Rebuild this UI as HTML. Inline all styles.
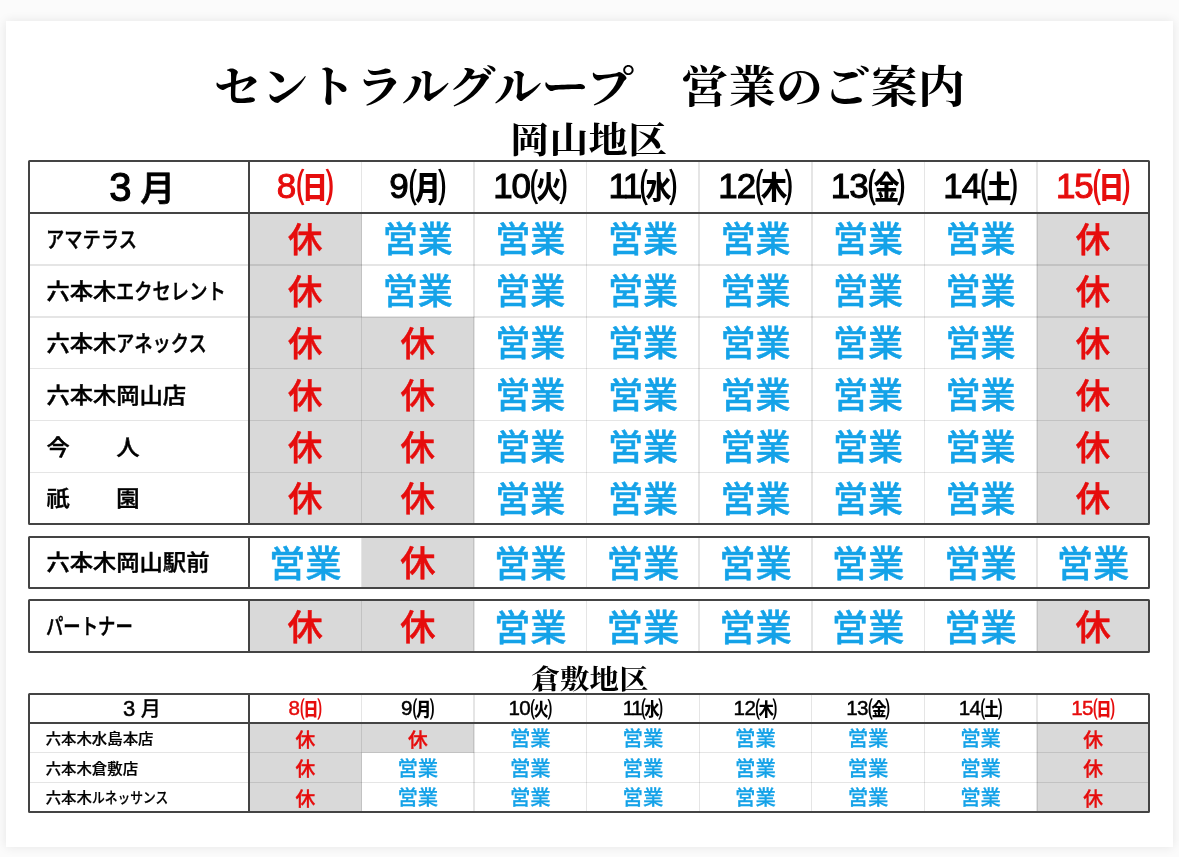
<!DOCTYPE html>
<html lang="ja"><head><meta charset="utf-8"><title>セントラルグループ 営業のご案内</title>
<style>
html,body{margin:0;padding:0}
body{width:1179px;height:857px;overflow:hidden;background:#fbfbfb;position:relative;font-family:"Liberation Sans","Noto Sans CJK JP",sans-serif;color:#000}
.paper{position:absolute;left:6.2px;top:21.2px;width:1167px;height:825.8px;background:#fff;box-shadow:0 0 10px rgba(0,0,0,.09)}
.title{position:absolute;left:0;width:1179px;text-align:center;font-family:"Liberation Serif","Noto Serif CJK JP","Noto Serif CJK SC",serif;font-weight:700;white-space:pre}
.t1{top:53.2px;font-size:47.35px;line-height:70px;transform:scaleY(.94)}
.t2{top:116.4px;left:-1px;font-size:39.25px;line-height:50px;transform:scaleY(.935)}
.t3{top:660px;font-size:29.4px;line-height:40px;transform:scaleY(.945)}
.c{position:absolute;box-sizing:border-box;display:flex;align-items:center;justify-content:center;white-space:nowrap}
.g{background:#d9d9d9}
.r{color:#e60d0d}
.b{color:#14a2e8}
.k{font-weight:500;-webkit-text-stroke:.5px currentColor}
.e{font-weight:500;-webkit-text-stroke:.5px currentColor}
.l{position:absolute;background:rgba(0,0,0,.1)}
.d{position:absolute;background:#444}
.lab{justify-content:flex-start;font-weight:500;-webkit-text-stroke:.5px currentColor}
.sq{display:inline-block;transform-origin:0 50%}
.n{font-family:"Liberation Sans","Noto Sans CJK JP",sans-serif;-webkit-text-stroke:1px currentColor}
.w{font-weight:700}
.m3{font-family:"Liberation Sans","Noto Sans CJK JP",sans-serif;font-weight:400;-webkit-text-stroke:.9px currentColor}
.mm{font-weight:500;-webkit-text-stroke:.5px currentColor;white-space:pre}
.ls{display:inline-block;transform:scaleY(.93);transform-origin:0 50%}
</style></head>
<body>
<div class="paper"></div>
<div class="title t1">セントラルグループ　営業のご案内</div>
<div class="title t2">岡山地区</div>
<div class="title t3">倉敷地区</div>
<div class="c" style="left:28.7px;top:160.9px;width:220.3px;height:52px;font-size:35px;padding-bottom:3px;padding-left:7px"><span class="mm" style="-webkit-text-stroke-width:0.7px"><span class="m3" style="-webkit-text-stroke-width:1.2px;font-size:40px;margin-right:-1px;position:relative;top:0px">3</span> 月</span></div>
<div class="c r" style="left:249px;top:160.9px;width:112.55px;height:52px;padding-bottom:2px"><span class="n" style="-webkit-text-stroke-width:1px;font-size:35px;letter-spacing:0px">8</span><span class="w" style="font-size:37.5px;margin-left:0px;position:relative;top:-1px">㈰</span></div>
<div class="c" style="left:361.55px;top:160.9px;width:112.55px;height:52px;padding-bottom:2px"><span class="n" style="-webkit-text-stroke-width:1px;font-size:35px;letter-spacing:0px">9</span><span class="w" style="font-size:37.5px;margin-left:0px;position:relative;top:-1px">㈪</span></div>
<div class="c" style="left:474.1px;top:160.9px;width:112.55px;height:52px;padding-bottom:2px"><span class="n" style="-webkit-text-stroke-width:1px;font-size:35px;letter-spacing:-1px">10</span><span class="w" style="font-size:37.5px;margin-left:0px;position:relative;top:-1px">㈫</span></div>
<div class="c" style="left:586.65px;top:160.9px;width:112.55px;height:52px;padding-bottom:2px"><span class="n" style="-webkit-text-stroke-width:1px;font-size:35px;letter-spacing:-2.5px">11</span><span class="w" style="font-size:37.5px;margin-left:0px;position:relative;top:-1px">㈬</span></div>
<div class="c" style="left:699.2px;top:160.9px;width:112.55px;height:52px;padding-bottom:2px"><span class="n" style="-webkit-text-stroke-width:1px;font-size:35px;letter-spacing:-1px">12</span><span class="w" style="font-size:37.5px;margin-left:0px;position:relative;top:-1px">㈭</span></div>
<div class="c" style="left:811.75px;top:160.9px;width:112.55px;height:52px;padding-bottom:2px"><span class="n" style="-webkit-text-stroke-width:1px;font-size:35px;letter-spacing:-1px">13</span><span class="w" style="font-size:37.5px;margin-left:0px;position:relative;top:-1px">㈮</span></div>
<div class="c" style="left:924.3px;top:160.9px;width:112.55px;height:52px;padding-bottom:2px"><span class="n" style="-webkit-text-stroke-width:1px;font-size:35px;letter-spacing:-1px">14</span><span class="w" style="font-size:37.5px;margin-left:0px;position:relative;top:-1px">㈯</span></div>
<div class="c r" style="left:1036.85px;top:160.9px;width:112.55px;height:52px;padding-bottom:2px"><span class="n" style="-webkit-text-stroke-width:1px;font-size:35px;letter-spacing:-1px">15</span><span class="w" style="font-size:37.5px;margin-left:0px;position:relative;top:-1px">㈰</span></div>
<div class="c lab" style="-webkit-text-stroke-width:0.5px;left:28.7px;top:212.9px;width:220.3px;height:51.92px;font-size:23.3px;padding-left:17.7px;padding-bottom:2px"><span class="ls"><span class="sq" style="transform:scaleX(0.785);margin-right:-25.05px">アマテラス</span></span></div>
<div class="c g r k" style="-webkit-text-stroke-width:0.5px;left:249px;top:212.9px;width:112.55px;height:51.92px;font-size:34.5px;padding-bottom:4px">休</div>
<div class="c b e" style="-webkit-text-stroke-width:0.5px;left:361.55px;top:212.9px;width:112.55px;height:51.92px;font-size:35px;padding-bottom:4px">営業</div>
<div class="c b e" style="-webkit-text-stroke-width:0.5px;left:474.1px;top:212.9px;width:112.55px;height:51.92px;font-size:35px;padding-bottom:4px">営業</div>
<div class="c b e" style="-webkit-text-stroke-width:0.5px;left:586.65px;top:212.9px;width:112.55px;height:51.92px;font-size:35px;padding-bottom:4px">営業</div>
<div class="c b e" style="-webkit-text-stroke-width:0.5px;left:699.2px;top:212.9px;width:112.55px;height:51.92px;font-size:35px;padding-bottom:4px">営業</div>
<div class="c b e" style="-webkit-text-stroke-width:0.5px;left:811.75px;top:212.9px;width:112.55px;height:51.92px;font-size:35px;padding-bottom:4px">営業</div>
<div class="c b e" style="-webkit-text-stroke-width:0.5px;left:924.3px;top:212.9px;width:112.55px;height:51.92px;font-size:35px;padding-bottom:4px">営業</div>
<div class="c g r k" style="-webkit-text-stroke-width:0.5px;left:1036.85px;top:212.9px;width:112.55px;height:51.92px;font-size:34.5px;padding-bottom:4px">休</div>
<div class="c lab" style="-webkit-text-stroke-width:0.5px;left:28.7px;top:264.82px;width:220.3px;height:51.92px;font-size:23.3px;padding-left:17.7px;padding-bottom:2px"><span class="ls">六本木<span class="sq" style="transform:scaleX(0.785);margin-right:-30.06px">エクセレント</span></span></div>
<div class="c g r k" style="-webkit-text-stroke-width:0.5px;left:249px;top:264.82px;width:112.55px;height:51.92px;font-size:34.5px;padding-bottom:4px">休</div>
<div class="c b e" style="-webkit-text-stroke-width:0.5px;left:361.55px;top:264.82px;width:112.55px;height:51.92px;font-size:35px;padding-bottom:4px">営業</div>
<div class="c b e" style="-webkit-text-stroke-width:0.5px;left:474.1px;top:264.82px;width:112.55px;height:51.92px;font-size:35px;padding-bottom:4px">営業</div>
<div class="c b e" style="-webkit-text-stroke-width:0.5px;left:586.65px;top:264.82px;width:112.55px;height:51.92px;font-size:35px;padding-bottom:4px">営業</div>
<div class="c b e" style="-webkit-text-stroke-width:0.5px;left:699.2px;top:264.82px;width:112.55px;height:51.92px;font-size:35px;padding-bottom:4px">営業</div>
<div class="c b e" style="-webkit-text-stroke-width:0.5px;left:811.75px;top:264.82px;width:112.55px;height:51.92px;font-size:35px;padding-bottom:4px">営業</div>
<div class="c b e" style="-webkit-text-stroke-width:0.5px;left:924.3px;top:264.82px;width:112.55px;height:51.92px;font-size:35px;padding-bottom:4px">営業</div>
<div class="c g r k" style="-webkit-text-stroke-width:0.5px;left:1036.85px;top:264.82px;width:112.55px;height:51.92px;font-size:34.5px;padding-bottom:4px">休</div>
<div class="c lab" style="-webkit-text-stroke-width:0.5px;left:28.7px;top:316.73px;width:220.3px;height:51.92px;font-size:23.3px;padding-left:17.7px;padding-bottom:2px"><span class="ls">六本木<span class="sq" style="transform:scaleX(0.785);margin-right:-25.05px">アネックス</span></span></div>
<div class="c g r k" style="-webkit-text-stroke-width:0.5px;left:249px;top:316.73px;width:112.55px;height:51.92px;font-size:34.5px;padding-bottom:4px">休</div>
<div class="c g r k" style="-webkit-text-stroke-width:0.5px;left:361.55px;top:316.73px;width:112.55px;height:51.92px;font-size:34.5px;padding-bottom:4px">休</div>
<div class="c b e" style="-webkit-text-stroke-width:0.5px;left:474.1px;top:316.73px;width:112.55px;height:51.92px;font-size:35px;padding-bottom:4px">営業</div>
<div class="c b e" style="-webkit-text-stroke-width:0.5px;left:586.65px;top:316.73px;width:112.55px;height:51.92px;font-size:35px;padding-bottom:4px">営業</div>
<div class="c b e" style="-webkit-text-stroke-width:0.5px;left:699.2px;top:316.73px;width:112.55px;height:51.92px;font-size:35px;padding-bottom:4px">営業</div>
<div class="c b e" style="-webkit-text-stroke-width:0.5px;left:811.75px;top:316.73px;width:112.55px;height:51.92px;font-size:35px;padding-bottom:4px">営業</div>
<div class="c b e" style="-webkit-text-stroke-width:0.5px;left:924.3px;top:316.73px;width:112.55px;height:51.92px;font-size:35px;padding-bottom:4px">営業</div>
<div class="c g r k" style="-webkit-text-stroke-width:0.5px;left:1036.85px;top:316.73px;width:112.55px;height:51.92px;font-size:34.5px;padding-bottom:4px">休</div>
<div class="c lab" style="-webkit-text-stroke-width:0.5px;left:28.7px;top:368.65px;width:220.3px;height:51.92px;font-size:23.3px;padding-left:17.7px;padding-bottom:2px"><span class="ls">六本木岡山店</span></div>
<div class="c g r k" style="-webkit-text-stroke-width:0.5px;left:249px;top:368.65px;width:112.55px;height:51.92px;font-size:34.5px;padding-bottom:4px">休</div>
<div class="c g r k" style="-webkit-text-stroke-width:0.5px;left:361.55px;top:368.65px;width:112.55px;height:51.92px;font-size:34.5px;padding-bottom:4px">休</div>
<div class="c b e" style="-webkit-text-stroke-width:0.5px;left:474.1px;top:368.65px;width:112.55px;height:51.92px;font-size:35px;padding-bottom:4px">営業</div>
<div class="c b e" style="-webkit-text-stroke-width:0.5px;left:586.65px;top:368.65px;width:112.55px;height:51.92px;font-size:35px;padding-bottom:4px">営業</div>
<div class="c b e" style="-webkit-text-stroke-width:0.5px;left:699.2px;top:368.65px;width:112.55px;height:51.92px;font-size:35px;padding-bottom:4px">営業</div>
<div class="c b e" style="-webkit-text-stroke-width:0.5px;left:811.75px;top:368.65px;width:112.55px;height:51.92px;font-size:35px;padding-bottom:4px">営業</div>
<div class="c b e" style="-webkit-text-stroke-width:0.5px;left:924.3px;top:368.65px;width:112.55px;height:51.92px;font-size:35px;padding-bottom:4px">営業</div>
<div class="c g r k" style="-webkit-text-stroke-width:0.5px;left:1036.85px;top:368.65px;width:112.55px;height:51.92px;font-size:34.5px;padding-bottom:4px">休</div>
<div class="c lab" style="-webkit-text-stroke-width:0.5px;left:28.7px;top:420.57px;width:220.3px;height:51.92px;font-size:23.3px;padding-left:17.7px;padding-bottom:2px"><span class="ls">今　　人</span></div>
<div class="c g r k" style="-webkit-text-stroke-width:0.5px;left:249px;top:420.57px;width:112.55px;height:51.92px;font-size:34.5px;padding-bottom:4px">休</div>
<div class="c g r k" style="-webkit-text-stroke-width:0.5px;left:361.55px;top:420.57px;width:112.55px;height:51.92px;font-size:34.5px;padding-bottom:4px">休</div>
<div class="c b e" style="-webkit-text-stroke-width:0.5px;left:474.1px;top:420.57px;width:112.55px;height:51.92px;font-size:35px;padding-bottom:4px">営業</div>
<div class="c b e" style="-webkit-text-stroke-width:0.5px;left:586.65px;top:420.57px;width:112.55px;height:51.92px;font-size:35px;padding-bottom:4px">営業</div>
<div class="c b e" style="-webkit-text-stroke-width:0.5px;left:699.2px;top:420.57px;width:112.55px;height:51.92px;font-size:35px;padding-bottom:4px">営業</div>
<div class="c b e" style="-webkit-text-stroke-width:0.5px;left:811.75px;top:420.57px;width:112.55px;height:51.92px;font-size:35px;padding-bottom:4px">営業</div>
<div class="c b e" style="-webkit-text-stroke-width:0.5px;left:924.3px;top:420.57px;width:112.55px;height:51.92px;font-size:35px;padding-bottom:4px">営業</div>
<div class="c g r k" style="-webkit-text-stroke-width:0.5px;left:1036.85px;top:420.57px;width:112.55px;height:51.92px;font-size:34.5px;padding-bottom:4px">休</div>
<div class="c lab" style="-webkit-text-stroke-width:0.5px;left:28.7px;top:472.48px;width:220.3px;height:51.92px;font-size:23.3px;padding-left:17.7px;padding-bottom:2px"><span class="ls">祇　　園</span></div>
<div class="c g r k" style="-webkit-text-stroke-width:0.5px;left:249px;top:472.48px;width:112.55px;height:51.92px;font-size:34.5px;padding-bottom:4px">休</div>
<div class="c g r k" style="-webkit-text-stroke-width:0.5px;left:361.55px;top:472.48px;width:112.55px;height:51.92px;font-size:34.5px;padding-bottom:4px">休</div>
<div class="c b e" style="-webkit-text-stroke-width:0.5px;left:474.1px;top:472.48px;width:112.55px;height:51.92px;font-size:35px;padding-bottom:4px">営業</div>
<div class="c b e" style="-webkit-text-stroke-width:0.5px;left:586.65px;top:472.48px;width:112.55px;height:51.92px;font-size:35px;padding-bottom:4px">営業</div>
<div class="c b e" style="-webkit-text-stroke-width:0.5px;left:699.2px;top:472.48px;width:112.55px;height:51.92px;font-size:35px;padding-bottom:4px">営業</div>
<div class="c b e" style="-webkit-text-stroke-width:0.5px;left:811.75px;top:472.48px;width:112.55px;height:51.92px;font-size:35px;padding-bottom:4px">営業</div>
<div class="c b e" style="-webkit-text-stroke-width:0.5px;left:924.3px;top:472.48px;width:112.55px;height:51.92px;font-size:35px;padding-bottom:4px">営業</div>
<div class="c g r k" style="-webkit-text-stroke-width:0.5px;left:1036.85px;top:472.48px;width:112.55px;height:51.92px;font-size:34.5px;padding-bottom:4px">休</div>
<div class="l" style="left:360.75px;top:160.9px;width:1.6px;height:363.5px"></div>
<div class="l" style="left:473.3px;top:160.9px;width:1.6px;height:363.5px"></div>
<div class="l" style="left:585.85px;top:160.9px;width:1.6px;height:363.5px"></div>
<div class="l" style="left:698.4px;top:160.9px;width:1.6px;height:363.5px"></div>
<div class="l" style="left:810.95px;top:160.9px;width:1.6px;height:363.5px"></div>
<div class="l" style="left:923.5px;top:160.9px;width:1.6px;height:363.5px"></div>
<div class="l" style="left:1036.05px;top:160.9px;width:1.6px;height:363.5px"></div>
<div class="l" style="left:28.7px;top:264.02px;width:1120.7px;height:1.6px"></div>
<div class="l" style="left:28.7px;top:315.93px;width:1120.7px;height:1.6px"></div>
<div class="l" style="left:28.7px;top:367.85px;width:1120.7px;height:1.6px"></div>
<div class="l" style="left:28.7px;top:419.77px;width:1120.7px;height:1.6px"></div>
<div class="l" style="left:28.7px;top:471.68px;width:1120.7px;height:1.6px"></div>
<div class="d" style="left:28.7px;top:211.85px;width:1120.7px;height:2.1px"></div>
<div class="d" style="left:247.95px;top:160.9px;width:2.1px;height:363.5px"></div>
<div style="position:absolute;box-sizing:border-box;left:27.65px;top:159.85px;width:1122.8px;height:365.6px;border:2.1px solid #444;border-radius:1.5px"></div>
<div class="c lab" style="-webkit-text-stroke-width:0.5px;left:28.7px;top:536.6px;width:220.3px;height:51.5px;font-size:23.3px;padding-left:17.7px;padding-bottom:2px"><span class="ls">六本木岡山駅前</span></div>
<div class="c b e" style="-webkit-text-stroke-width:0.5px;left:249px;top:536.6px;width:112.55px;height:51.5px;font-size:36.3px;padding-bottom:2px">営業</div>
<div class="c g r k" style="-webkit-text-stroke-width:0.5px;left:361.55px;top:536.6px;width:112.55px;height:51.5px;font-size:35.3px;padding-bottom:3px">休</div>
<div class="c b e" style="-webkit-text-stroke-width:0.5px;left:474.1px;top:536.6px;width:112.55px;height:51.5px;font-size:36.3px;padding-bottom:2px">営業</div>
<div class="c b e" style="-webkit-text-stroke-width:0.5px;left:586.65px;top:536.6px;width:112.55px;height:51.5px;font-size:36.3px;padding-bottom:2px">営業</div>
<div class="c b e" style="-webkit-text-stroke-width:0.5px;left:699.2px;top:536.6px;width:112.55px;height:51.5px;font-size:36.3px;padding-bottom:2px">営業</div>
<div class="c b e" style="-webkit-text-stroke-width:0.5px;left:811.75px;top:536.6px;width:112.55px;height:51.5px;font-size:36.3px;padding-bottom:2px">営業</div>
<div class="c b e" style="-webkit-text-stroke-width:0.5px;left:924.3px;top:536.6px;width:112.55px;height:51.5px;font-size:36.3px;padding-bottom:2px">営業</div>
<div class="c b e" style="-webkit-text-stroke-width:0.5px;left:1036.85px;top:536.6px;width:112.55px;height:51.5px;font-size:36.3px;padding-bottom:2px">営業</div>
<div class="l" style="left:360.75px;top:536.6px;width:1.6px;height:51.5px"></div>
<div class="l" style="left:473.3px;top:536.6px;width:1.6px;height:51.5px"></div>
<div class="l" style="left:585.85px;top:536.6px;width:1.6px;height:51.5px"></div>
<div class="l" style="left:698.4px;top:536.6px;width:1.6px;height:51.5px"></div>
<div class="l" style="left:810.95px;top:536.6px;width:1.6px;height:51.5px"></div>
<div class="l" style="left:923.5px;top:536.6px;width:1.6px;height:51.5px"></div>
<div class="l" style="left:1036.05px;top:536.6px;width:1.6px;height:51.5px"></div>
<div class="d" style="left:247.95px;top:536.6px;width:2.1px;height:51.5px"></div>
<div style="position:absolute;box-sizing:border-box;left:27.65px;top:535.55px;width:1122.8px;height:53.6px;border:2.1px solid #444;border-radius:1.5px"></div>
<div class="c lab" style="-webkit-text-stroke-width:0.5px;left:28.7px;top:600.5px;width:220.3px;height:51.4px;font-size:23.3px;padding-left:17.7px;padding-bottom:2px"><span class="ls"><span class="sq" style="transform:scaleX(0.745);margin-right:-29.71px">パートナー</span></span></div>
<div class="c g r k" style="-webkit-text-stroke-width:0.5px;left:249px;top:600.5px;width:112.55px;height:51.4px;font-size:35.3px;padding-bottom:3px">休</div>
<div class="c g r k" style="-webkit-text-stroke-width:0.5px;left:361.55px;top:600.5px;width:112.55px;height:51.4px;font-size:35.3px;padding-bottom:3px">休</div>
<div class="c b e" style="-webkit-text-stroke-width:0.5px;left:474.1px;top:600.5px;width:112.55px;height:51.4px;font-size:36.3px;padding-bottom:2px">営業</div>
<div class="c b e" style="-webkit-text-stroke-width:0.5px;left:586.65px;top:600.5px;width:112.55px;height:51.4px;font-size:36.3px;padding-bottom:2px">営業</div>
<div class="c b e" style="-webkit-text-stroke-width:0.5px;left:699.2px;top:600.5px;width:112.55px;height:51.4px;font-size:36.3px;padding-bottom:2px">営業</div>
<div class="c b e" style="-webkit-text-stroke-width:0.5px;left:811.75px;top:600.5px;width:112.55px;height:51.4px;font-size:36.3px;padding-bottom:2px">営業</div>
<div class="c b e" style="-webkit-text-stroke-width:0.5px;left:924.3px;top:600.5px;width:112.55px;height:51.4px;font-size:36.3px;padding-bottom:2px">営業</div>
<div class="c g r k" style="-webkit-text-stroke-width:0.5px;left:1036.85px;top:600.5px;width:112.55px;height:51.4px;font-size:35.3px;padding-bottom:3px">休</div>
<div class="l" style="left:360.75px;top:600.5px;width:1.6px;height:51.4px"></div>
<div class="l" style="left:473.3px;top:600.5px;width:1.6px;height:51.4px"></div>
<div class="l" style="left:585.85px;top:600.5px;width:1.6px;height:51.4px"></div>
<div class="l" style="left:698.4px;top:600.5px;width:1.6px;height:51.4px"></div>
<div class="l" style="left:810.95px;top:600.5px;width:1.6px;height:51.4px"></div>
<div class="l" style="left:923.5px;top:600.5px;width:1.6px;height:51.4px"></div>
<div class="l" style="left:1036.05px;top:600.5px;width:1.6px;height:51.4px"></div>
<div class="d" style="left:247.95px;top:600.5px;width:2.1px;height:51.4px"></div>
<div style="position:absolute;box-sizing:border-box;left:27.65px;top:599.45px;width:1122.8px;height:53.5px;border:2.1px solid #444;border-radius:1.5px"></div>
<div class="c" style="left:28.7px;top:693.7px;width:220.3px;height:29.5px;font-size:20px;padding-bottom:1px;padding-left:6px"><span class="mm" style="-webkit-text-stroke-width:0.3px"><span class="m3" style="-webkit-text-stroke-width:0.5px;font-size:22px;margin-right:0px;position:relative;top:0px">3</span> 月</span></div>
<div class="c r" style="left:249px;top:693.7px;width:112.55px;height:29.5px;padding-bottom:0.5px"><span class="n" style="-webkit-text-stroke-width:0.45px;font-size:20.6px;letter-spacing:-0px">8</span><span class="w" style="font-size:22px;margin-left:0px;position:relative;top:-1px">㈰</span></div>
<div class="c" style="left:361.55px;top:693.7px;width:112.55px;height:29.5px;padding-bottom:0.5px"><span class="n" style="-webkit-text-stroke-width:0.45px;font-size:20.6px;letter-spacing:-0px">9</span><span class="w" style="font-size:22px;margin-left:0px;position:relative;top:-1px">㈪</span></div>
<div class="c" style="left:474.1px;top:693.7px;width:112.55px;height:29.5px;padding-bottom:0.5px"><span class="n" style="-webkit-text-stroke-width:0.45px;font-size:20.6px;letter-spacing:-0.6px">10</span><span class="w" style="font-size:22px;margin-left:0px;position:relative;top:-1px">㈫</span></div>
<div class="c" style="left:586.65px;top:693.7px;width:112.55px;height:29.5px;padding-bottom:0.5px"><span class="n" style="-webkit-text-stroke-width:0.45px;font-size:20.6px;letter-spacing:-1.5px">11</span><span class="w" style="font-size:22px;margin-left:0px;position:relative;top:-1px">㈬</span></div>
<div class="c" style="left:699.2px;top:693.7px;width:112.55px;height:29.5px;padding-bottom:0.5px"><span class="n" style="-webkit-text-stroke-width:0.45px;font-size:20.6px;letter-spacing:-0.6px">12</span><span class="w" style="font-size:22px;margin-left:0px;position:relative;top:-1px">㈭</span></div>
<div class="c" style="left:811.75px;top:693.7px;width:112.55px;height:29.5px;padding-bottom:0.5px"><span class="n" style="-webkit-text-stroke-width:0.45px;font-size:20.6px;letter-spacing:-0.6px">13</span><span class="w" style="font-size:22px;margin-left:0px;position:relative;top:-1px">㈮</span></div>
<div class="c" style="left:924.3px;top:693.7px;width:112.55px;height:29.5px;padding-bottom:0.5px"><span class="n" style="-webkit-text-stroke-width:0.45px;font-size:20.6px;letter-spacing:-0.6px">14</span><span class="w" style="font-size:22px;margin-left:0px;position:relative;top:-1px">㈯</span></div>
<div class="c r" style="left:1036.85px;top:693.7px;width:112.55px;height:29.5px;padding-bottom:0.5px"><span class="n" style="-webkit-text-stroke-width:0.45px;font-size:20.6px;letter-spacing:-0.6px">15</span><span class="w" style="font-size:22px;margin-left:0px;position:relative;top:-1px">㈰</span></div>
<div class="c lab" style="-webkit-text-stroke-width:0.25px;left:28.7px;top:723.2px;width:220.3px;height:29.4px;font-size:15.4px;padding-left:17px;padding-bottom:1px"><span class="ls">六本木水島本店</span></div>
<div class="c g r k" style="-webkit-text-stroke-width:0.3px;left:249px;top:723.2px;width:112.55px;height:29.4px;font-size:19.8px;padding-top:1px">休</div>
<div class="c g r k" style="-webkit-text-stroke-width:0.3px;left:361.55px;top:723.2px;width:112.55px;height:29.4px;font-size:19.8px;padding-top:1px">休</div>
<div class="c b e" style="-webkit-text-stroke-width:0.25px;left:474.1px;top:723.2px;width:112.55px;height:29.4px;font-size:20.4px;padding-bottom:1px">営業</div>
<div class="c b e" style="-webkit-text-stroke-width:0.25px;left:586.65px;top:723.2px;width:112.55px;height:29.4px;font-size:20.4px;padding-bottom:1px">営業</div>
<div class="c b e" style="-webkit-text-stroke-width:0.25px;left:699.2px;top:723.2px;width:112.55px;height:29.4px;font-size:20.4px;padding-bottom:1px">営業</div>
<div class="c b e" style="-webkit-text-stroke-width:0.25px;left:811.75px;top:723.2px;width:112.55px;height:29.4px;font-size:20.4px;padding-bottom:1px">営業</div>
<div class="c b e" style="-webkit-text-stroke-width:0.25px;left:924.3px;top:723.2px;width:112.55px;height:29.4px;font-size:20.4px;padding-bottom:1px">営業</div>
<div class="c g r k" style="-webkit-text-stroke-width:0.3px;left:1036.85px;top:723.2px;width:112.55px;height:29.4px;font-size:19.8px;padding-top:1px">休</div>
<div class="c lab" style="-webkit-text-stroke-width:0.25px;left:28.7px;top:752.6px;width:220.3px;height:29.6px;font-size:15.4px;padding-left:17px;padding-bottom:1px"><span class="ls">六本木倉敷店</span></div>
<div class="c g r k" style="-webkit-text-stroke-width:0.3px;left:249px;top:752.6px;width:112.55px;height:29.6px;font-size:19.8px;padding-top:1px">休</div>
<div class="c b e" style="-webkit-text-stroke-width:0.25px;left:361.55px;top:752.6px;width:112.55px;height:29.6px;font-size:20.4px;padding-bottom:1px">営業</div>
<div class="c b e" style="-webkit-text-stroke-width:0.25px;left:474.1px;top:752.6px;width:112.55px;height:29.6px;font-size:20.4px;padding-bottom:1px">営業</div>
<div class="c b e" style="-webkit-text-stroke-width:0.25px;left:586.65px;top:752.6px;width:112.55px;height:29.6px;font-size:20.4px;padding-bottom:1px">営業</div>
<div class="c b e" style="-webkit-text-stroke-width:0.25px;left:699.2px;top:752.6px;width:112.55px;height:29.6px;font-size:20.4px;padding-bottom:1px">営業</div>
<div class="c b e" style="-webkit-text-stroke-width:0.25px;left:811.75px;top:752.6px;width:112.55px;height:29.6px;font-size:20.4px;padding-bottom:1px">営業</div>
<div class="c b e" style="-webkit-text-stroke-width:0.25px;left:924.3px;top:752.6px;width:112.55px;height:29.6px;font-size:20.4px;padding-bottom:1px">営業</div>
<div class="c g r k" style="-webkit-text-stroke-width:0.3px;left:1036.85px;top:752.6px;width:112.55px;height:29.6px;font-size:19.8px;padding-top:1px">休</div>
<div class="c lab" style="-webkit-text-stroke-width:0.25px;left:28.7px;top:782.2px;width:220.3px;height:29.3px;font-size:15.4px;padding-left:17px;padding-bottom:1px"><span class="ls">六本木<span class="sq" style="transform:scaleX(0.83);margin-right:-15.71px">ルネッサンス</span></span></div>
<div class="c g r k" style="-webkit-text-stroke-width:0.3px;left:249px;top:782.2px;width:112.55px;height:29.3px;font-size:19.8px;padding-top:1px">休</div>
<div class="c b e" style="-webkit-text-stroke-width:0.25px;left:361.55px;top:782.2px;width:112.55px;height:29.3px;font-size:20.4px;padding-bottom:1px">営業</div>
<div class="c b e" style="-webkit-text-stroke-width:0.25px;left:474.1px;top:782.2px;width:112.55px;height:29.3px;font-size:20.4px;padding-bottom:1px">営業</div>
<div class="c b e" style="-webkit-text-stroke-width:0.25px;left:586.65px;top:782.2px;width:112.55px;height:29.3px;font-size:20.4px;padding-bottom:1px">営業</div>
<div class="c b e" style="-webkit-text-stroke-width:0.25px;left:699.2px;top:782.2px;width:112.55px;height:29.3px;font-size:20.4px;padding-bottom:1px">営業</div>
<div class="c b e" style="-webkit-text-stroke-width:0.25px;left:811.75px;top:782.2px;width:112.55px;height:29.3px;font-size:20.4px;padding-bottom:1px">営業</div>
<div class="c b e" style="-webkit-text-stroke-width:0.25px;left:924.3px;top:782.2px;width:112.55px;height:29.3px;font-size:20.4px;padding-bottom:1px">営業</div>
<div class="c g r k" style="-webkit-text-stroke-width:0.3px;left:1036.85px;top:782.2px;width:112.55px;height:29.3px;font-size:19.8px;padding-top:1px">休</div>
<div class="l" style="left:360.85px;top:693.7px;width:1.4px;height:117.8px"></div>
<div class="l" style="left:473.4px;top:693.7px;width:1.4px;height:117.8px"></div>
<div class="l" style="left:585.95px;top:693.7px;width:1.4px;height:117.8px"></div>
<div class="l" style="left:698.5px;top:693.7px;width:1.4px;height:117.8px"></div>
<div class="l" style="left:811.05px;top:693.7px;width:1.4px;height:117.8px"></div>
<div class="l" style="left:923.6px;top:693.7px;width:1.4px;height:117.8px"></div>
<div class="l" style="left:1036.15px;top:693.7px;width:1.4px;height:117.8px"></div>
<div class="l" style="left:28.7px;top:751.9px;width:1120.7px;height:1.4px"></div>
<div class="l" style="left:28.7px;top:781.5px;width:1120.7px;height:1.4px"></div>
<div class="d" style="left:28.7px;top:722.15px;width:1120.7px;height:2.1px"></div>
<div class="d" style="left:247.95px;top:693.7px;width:2.1px;height:117.8px"></div>
<div style="position:absolute;box-sizing:border-box;left:27.65px;top:692.65px;width:1122.8px;height:119.9px;border:2.1px solid #444;border-radius:1.5px"></div>
</body></html>
